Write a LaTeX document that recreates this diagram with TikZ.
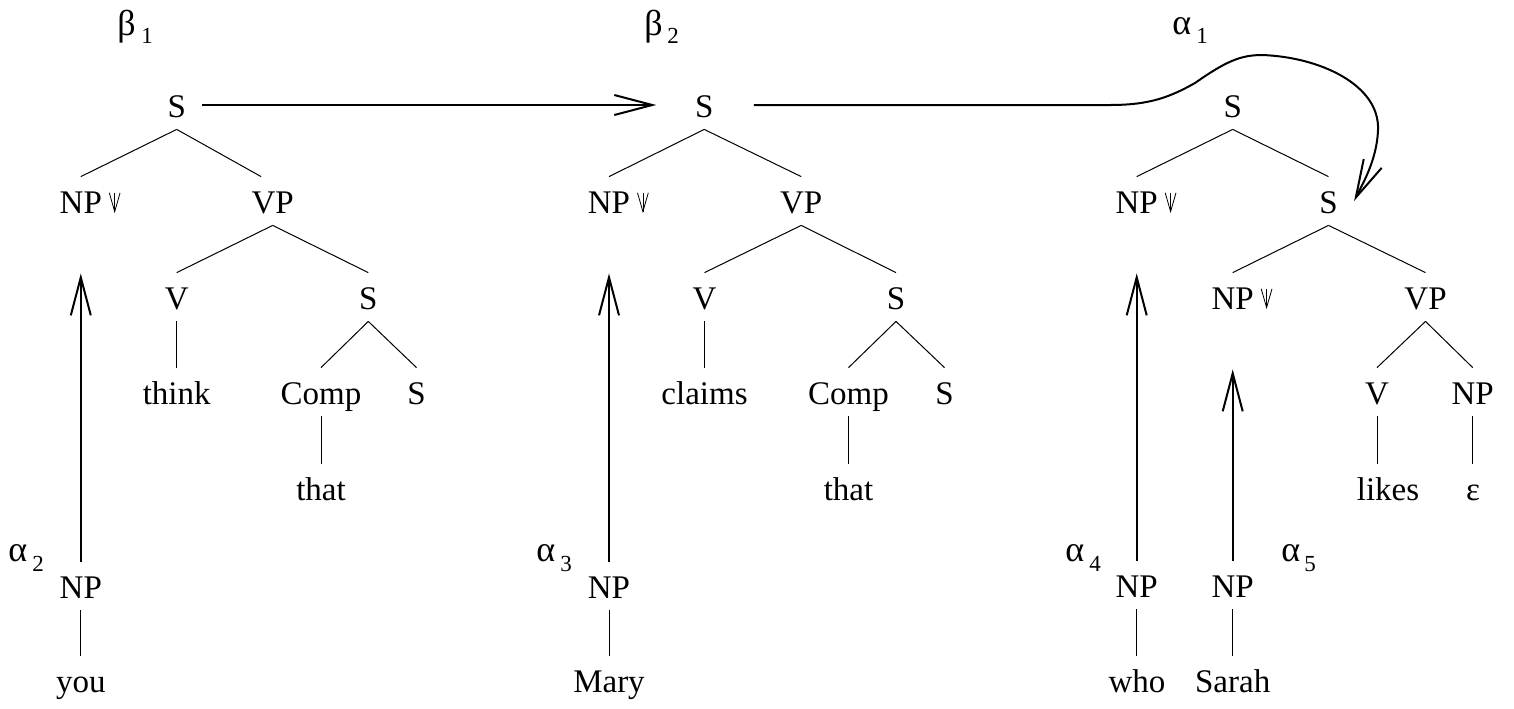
\documentclass[tikz,border=0pt]{standalone}
\usepackage{fontspec}
\newfontfamily\lserif{Liberation Serif}
\usetikzlibrary{arrows.meta}
\newcommand\subsz{\fontsize{11.5}{12}\selectfont\lserif}
\begin{document}
\begin{tikzpicture}[x=0.5pt,y=-0.5pt,
  lbl/.style={inner sep=0pt, anchor=base, text height=18pt, text depth=6pt, font=\fontsize{16.5}{19}\selectfont\lserif},
  glab/.style={inner sep=0pt, anchor=base west, font=\fontsize{18}{20}\selectfont\lserif},
  sublab/.style={inner sep=0pt, anchor=base west, font=\subsz},
  branch/.style={line width=0.5pt},
  bigarrow/.style={line width=1pt, -{Straight Barb[length=19pt,width=10pt]}},
  dmark/.style={line width=0.4pt},
]
\useasboundingbox (0,0) rectangle (1514,708);

% ---------- labels ----------
\node[glab] (b1) at (117,35) {β};
\node[sublab] (b1s) at (141,43.3) {1};
\node[glab] (b2) at (644,35) {β};
\node[sublab] (b2s) at (667,43.3) {2};
\node[glab] (a1) at (1172,34) {α};
\node[sublab] (a1s) at (1196,43.3) {1};
\node[glab] (a2) at (8,561) {α};
\node[sublab] (a2s) at (32,571.7) {2};
\node[glab] (a3) at (536,561) {α};
\node[sublab] (a3s) at (560,571.7) {3};
\node[glab] (a4) at (1065,561) {α};
\node[sublab] (a4s) at (1089,571.7) {4};
\node[glab] (a5) at (1281,561) {α};
\node[sublab] (a5s) at (1304,571.7) {5};

% ---------- tree beta1 ----------
\node[lbl] (s1) at (176.7,117) {S};
\node[lbl] (np1) at (80.8,213) {NP};
\node[lbl] (vp1) at (272.7,213) {VP};
\node[lbl] (v1) at (176.7,309) {V};
\node[lbl] (ss1) at (368.3,309) {S};
\node[lbl] (think) at (176.7,404) {think};
\node[lbl] (comp1) at (321,404) {Comp};
\node[lbl] (sss1) at (416.5,404) {S};
\node[lbl] (that1) at (321,500) {that};

\draw[branch] (s1.south) -- (np1.north);
\draw[branch] (s1.south) -- ([xshift=-5.8pt]vp1.north);
\draw[branch] (vp1.south) -- (v1.north);
\draw[branch] (vp1.south) -- (ss1.north);
\draw[branch] (v1.south) -- (think.north);
\draw[branch] (ss1.south) -- (comp1.north);
\draw[branch] (ss1.south) -- (sss1.north);
\draw[branch] (comp1.south) -- (that1.north);

% ---------- tree alpha2 ----------
\node[lbl] (npa2) at (80.8,598) {NP};
\node[lbl] (you) at (80.8,692) {you};
\draw[branch] (npa2.south) -- (you.north);

% ---------- tree beta2 ----------
\node[lbl] (s2) at (704.2,117) {S};
\node[lbl] (np2) at (609,213) {NP};
\node[lbl] (vp2) at (801.2,213) {VP};
\node[lbl] (v2) at (704.5,309) {V};
\node[lbl] (ss2) at (896,309) {S};
\node[lbl] (claims) at (704.5,404) {claims};
\node[lbl] (comp2) at (848.5,404) {Comp};
\node[lbl] (sss2) at (944.5,404) {S};
\node[lbl] (that2) at (848.5,500) {that};

\draw[branch] (s2.south) -- (np2.north);
\draw[branch] (s2.south) -- (vp2.north);
\draw[branch] (vp2.south) -- (v2.north);
\draw[branch] (vp2.south) -- (ss2.north);
\draw[branch] (v2.south) -- (claims.north);
\draw[branch] (ss2.south) -- (comp2.north);
\draw[branch] (ss2.south) -- (sss2.north);
\draw[branch] (comp2.south) -- (that2.north);

% ---------- tree alpha3 ----------
\node[lbl] (npa3) at (609,598) {NP};
\node[lbl] (mary) at (609,692) {Mary};
\draw[branch] (npa3.south) -- (mary.north);

% ---------- tree alpha1 ----------
\node[lbl] (s3) at (1232.7,117) {S};
\node[lbl] (np3) at (1136.7,213) {NP};
\node[lbl] (s3b) at (1328.5,213) {S};
\node[lbl] (np3b) at (1232.7,309) {NP};
\node[lbl] (vp3) at (1425.5,309) {VP};
\node[lbl] (v3) at (1377,404) {V};
\node[lbl] (np3c) at (1472.7,404) {NP};
\node[lbl] (likes) at (1388,500) {likes};
\node[lbl] (eps) at (1473,500) {ε};

\draw[branch] (s3.south) -- (np3.north);
\draw[branch] (s3.south) -- (s3b.north);
\draw[branch] (s3b.south) -- (np3b.north);
\draw[branch] (s3b.south) -- (vp3.north);
\draw[branch] (vp3.south) -- (v3.north);
\draw[branch] (vp3.south) -- (np3c.north);
\draw[branch] (v3.south) -- (v3.south |- likes.north);
\draw[branch] (np3c.south) -- (np3c.south |- eps.north);

% ---------- trees alpha4, alpha5 ----------
\node[lbl] (npa4) at (1136.7,597) {NP};
\node[lbl] (who) at (1137,692) {who};
\draw[branch] (npa4.south) -- (npa4.south |- who.north);
\node[lbl] (npa5) at (1232.7,597) {NP};
\node[lbl] (sarah) at (1232.7,692) {Sarah};
\draw[branch] (npa5.south) -- (sarah.north);

% ---------- substitution marks ----------
\foreach \n in {np1,np2,np3,np3b}{
  \coordinate (m) at ([xshift=6.2pt]\n.base east);
  \draw[dmark] ([shift={(-2.7pt,10.1pt)}]m) -- ([yshift=0.7pt]m) -- ([shift={(2.7pt,10.1pt)}]m);
  \draw[dmark] ([yshift=10.1pt]m) -- ([yshift=0.7pt]m);
}

% ---------- operation arrows ----------
\draw[bigarrow, shorten >=24pt] (npa2.north) -- (np1.south);
\draw[bigarrow, shorten >=24pt] (npa3.north) -- (np2.south);
\draw[bigarrow, shorten >=24pt] (npa4.north) -- (npa4.north |- np3.south);
\draw[bigarrow, shorten >=24pt] (npa5.north) -- (np3b.south);
\draw[bigarrow, shorten <=8pt, shorten >=19.2pt] (s1.east) -- (s2.west);
\draw[bigarrow] ([xshift=20pt]s2.east) -- (1110,105)
  .. controls (1150,105) and (1170,97) .. (1195,83)
  .. controls (1225,62) and (1240,55) .. (1262,55)
  .. controls (1320,57) and (1380,85) .. (1378,130)
  .. controls (1377,160) and (1362,185) .. ([xshift=8pt]s3b.east);
\end{tikzpicture}
\end{document}
